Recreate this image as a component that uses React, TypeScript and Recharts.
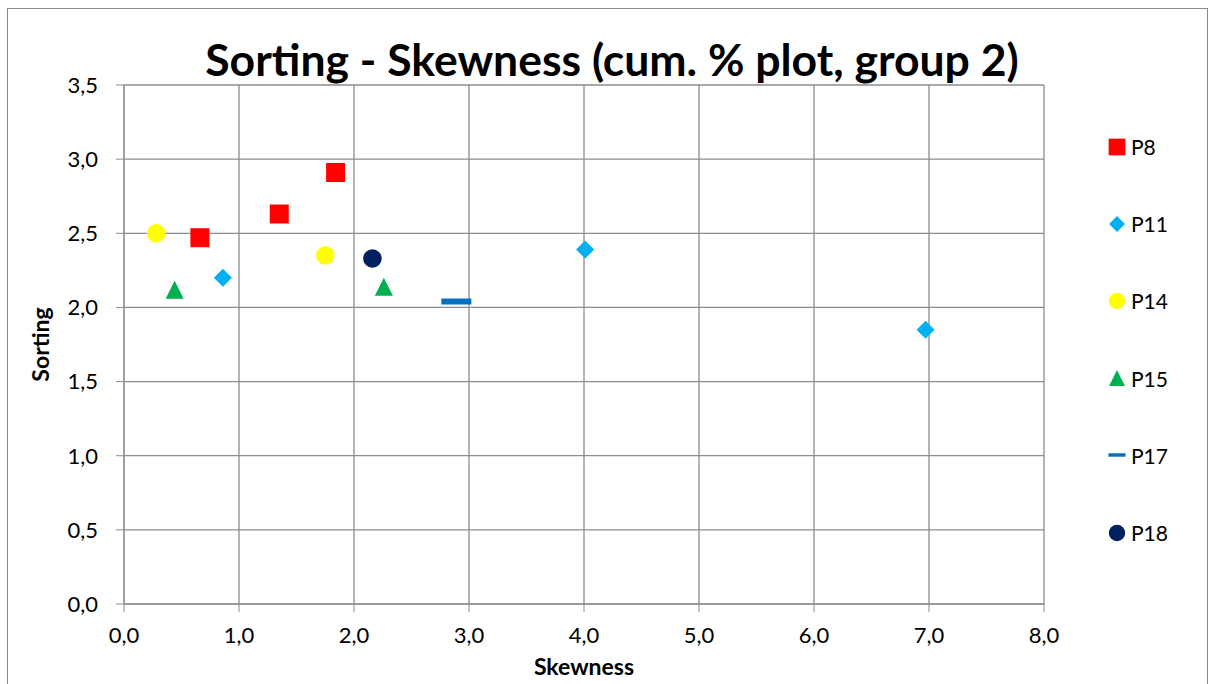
import {
  CartesianGrid,
  Label,
  Scatter,
  ScatterChart,
  XAxis,
  YAxis,
} from 'recharts';

const SERIES_NAMES = ['P8', 'P11', 'P14', 'P15', 'P17', 'P18'];

const p8Skew = [0.66, 1.35, 1.84];
const p8Sort = [2.47, 2.63, 2.91];
const p11Skew = [0.86, 4.01, 6.97];
const p11Sort = [2.2, 2.39, 1.85];
const p14Skew = [0.28, 1.75];
const p14Sort = [2.5, 2.35];
const p15Skew = [0.44, 2.26];
const p15Sort = [2.12, 2.14];
const p17Skew = [2.89];
const p17Sort = [2.04];
const p18Skew = [2.16];
const p18Sort = [2.33];

const X_TICKS = [0, 1, 2, 3, 4, 5, 6, 7, 8];
const Y_TICKS = [0, 0.5, 1, 1.5, 2, 2.5, 3, 3.5];

const FONT = 'Lato, "Open Sans", sans-serif';
const GRID = '#8c8c8c';

type Kind = 'square' | 'diamond' | 'circle' | 'triangle' | 'dash';

const STYLE: Record<string, { kind: Kind; color: string }> = {
  P8: { kind: 'square', color: '#ff0000' },
  P11: { kind: 'diamond', color: '#00b0f0' },
  P14: { kind: 'circle', color: '#ffff00' },
  P15: { kind: 'triangle', color: '#00b050' },
  P17: { kind: 'dash', color: '#0070c0' },
  P18: { kind: 'circle', color: '#002060' },
};

const toRows = (xs: number[], ys: number[]) => xs.map((x, i) => ({ x, y: ys[i] }));

const DATA: Record<string, { x: number; y: number }[]> = {
  P8: toRows(p8Skew, p8Sort),
  P11: toRows(p11Skew, p11Sort),
  P14: toRows(p14Skew, p14Sort),
  P15: toRows(p15Skew, p15Sort),
  P17: toRows(p17Skew, p17Sort),
  P18: toRows(p18Skew, p18Sort),
};

const fmt = (v: number) => v.toFixed(1).replace('.', ',');

function Marker({ kind, color, cx, cy, s = 1 }: { kind: Kind; color: string; cx: number; cy: number; s?: number }) {
  switch (kind) {
    case 'square':
      return <rect x={cx - 9.5 * s} y={cy - 9.5 * s} width={19 * s} height={19 * s} fill={color} />;
    case 'diamond':
      return (
        <polygon
          points={`${cx},${cy - 9 * s} ${cx + 9 * s},${cy} ${cx},${cy + 9 * s} ${cx - 9 * s},${cy}`}
          fill={color}
        />
      );
    case 'circle':
      return <circle cx={cx} cy={cy} r={9.3 * s} fill={color} />;
    case 'triangle':
      return (
        <polygon
          points={`${cx},${cy - 9 * s} ${cx + 9 * s},${cy + 9 * s} ${cx - 9 * s},${cy + 9 * s}`}
          fill={color}
        />
      );
    case 'dash':
      return <rect x={cx - 15 * s} y={cy - 3 * s} width={30 * s} height={6 * s} fill={color} />;
  }
}

function LegendBox() {
  return (
    <div
      style={{
        position: 'absolute',
        left: 1107,
        top: 108,
        fontFamily: FONT,
        fontSize: 21,
        color: '#000',
      }}
    >
      {SERIES_NAMES.map((name) => (
        <div key={name} style={{ height: 77.2, display: 'flex', alignItems: 'center' }}>
          <svg width={20} height={20} style={{ marginRight: 4 }}>
            <Marker
              kind={STYLE[name].kind}
              color={STYLE[name].color}
              cx={10}
              cy={10}
              s={name === 'P17' ? 0.57 : 0.88}
            />
          </svg>
          <span>{name}</span>
        </div>
      ))}
    </div>
  );
}

export default function App() {
  return (
    <div style={{ position: 'absolute', left: 0, top: 0, width: 1213, height: 684, background: '#fff', overflow: 'hidden' }}>
      <div
        style={{
          position: 'absolute',
          left: 7,
          top: 8,
          width: 1199,
          height: 700,
          border: '1px solid #8a8a8a',
        }}
      />
      <div
        style={{
          position: 'absolute',
          left: 0,
          top: 35,
          width: 1224,
          textAlign: 'center',
          fontFamily: FONT,
          fontWeight: 'bold',
          fontSize: 44.5,
          lineHeight: '48px',
        }}
      >
        Sorting - Skewness (cum. % plot, group 2)
      </div>
      <div style={{ position: 'absolute', left: 0, top: 0 }}>
        <ScatterChart width={1213} height={684} margin={{ top: 85, right: 169, bottom: 40, left: 60 }}>
          <CartesianGrid stroke={GRID} strokeWidth={1.3} horizontalValues={Y_TICKS} verticalValues={X_TICKS} />
          <XAxis
            type="number"
            dataKey="x"
            domain={[0, 8]}
            ticks={X_TICKS}
            tickFormatter={fmt}
            height={40}
            tickSize={8}
            tickMargin={15}
            stroke={GRID}
            tick={{ fill: '#000', fontSize: 22, fontFamily: FONT }}
            allowDataOverflow
          >
            <Label
              value="Skewness"
              position="bottom"
              offset={15}
              style={{ fontFamily: FONT, fontWeight: 'bold', fontSize: 23, fill: '#000' }}
            />
          </XAxis>
          <YAxis
            type="number"
            dataKey="y"
            domain={[0, 3.5]}
            ticks={Y_TICKS}
            tickFormatter={fmt}
            width={64}
            tickSize={8}
            tickMargin={18}
            stroke={GRID}
            tick={{ fill: '#000', fontSize: 22, fontFamily: FONT }}
            allowDataOverflow
          >
            <Label
              value="Sorting"
              angle={-90}
              position="insideLeft"
              offset={-19}
              style={{ fontFamily: FONT, fontWeight: 'bold', fontSize: 23, fill: '#000', textAnchor: 'middle' }}
            />
          </YAxis>
          {SERIES_NAMES.map((name) => (
            <Scatter
              key={name}
              name={name}
              data={DATA[name]}
              isAnimationActive={false}
              shape={(p: any) => <Marker kind={STYLE[name].kind} color={STYLE[name].color} cx={p.cx} cy={p.cy} />}
            />
          ))}
        </ScatterChart>
      </div>
      <LegendBox />
    </div>
  );
}
